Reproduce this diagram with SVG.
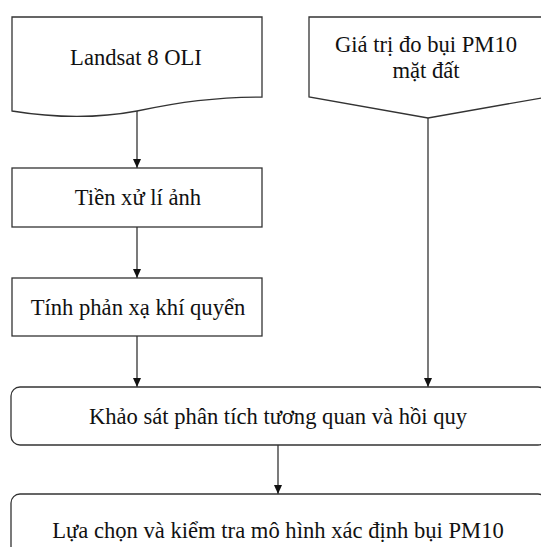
<svg xmlns="http://www.w3.org/2000/svg" width="541" height="547" viewBox="0 0 541 547">
<style>
.s{fill:#fff;stroke:#333;stroke-width:1.3}
.t{font-family:"Liberation Serif","Times New Roman",serif;font-size:22.6px;fill:#111;text-anchor:middle}
.c{fill:none;stroke:#333;stroke-width:1.3}
</style>
<defs>
<marker id="ah" markerWidth="10" markerHeight="10" refX="9" refY="5" orient="auto" markerUnits="userSpaceOnUse">
<path d="M0,1 L9,5 L0,9 Z" fill="#111"/>
</marker>
</defs>
<rect width="541" height="547" fill="#fff"/>
<g id="connectors">
<line class="c" x1="137" y1="111" x2="137" y2="168" marker-end="url(#ah)"/>
<line class="c" x1="137" y1="227" x2="137" y2="278" marker-end="url(#ah)"/>
<line class="c" x1="137" y1="336" x2="137" y2="387" marker-end="url(#ah)"/>
<line class="c" x1="428" y1="118" x2="428" y2="387" marker-end="url(#ah)"/>
<line class="c" x1="278" y1="445" x2="278" y2="494" marker-end="url(#ah)"/>
</g>
<g id="landsat">
<path class="s" d="M12,17 H262 V97 C215,97 180,102 137,111 C100,118 55,118 12,111 Z"/>
<text class="t" x="136" y="65">Landsat 8 OLI</text>
</g>
<g id="pm10">
<path class="s" d="M309,17 H547 V97 L428,118 L309,97 Z"/>
<text class="t" x="426" y="52">Giá trị đo bụi PM10</text>
<text class="t" x="426" y="78">mặt đất</text>
</g>
<g id="tienxuli">
<rect class="s" x="12" y="168" width="250" height="59"/>
<text class="t" x="138" y="205">Tiền xử lí ảnh</text>
</g>
<g id="phanxa">
<rect class="s" x="12" y="278" width="250" height="58"/>
<text class="t" x="138" y="315">Tính phản xạ khí quyển</text>
</g>
<g id="khaosat">
<rect class="s" x="11" y="387" width="536" height="58" rx="9"/>
<text class="t" x="278" y="424">Khảo sát phân tích tương quan và hồi quy</text>
</g>
<g id="luachon">
<rect class="s" x="11" y="494" width="536" height="70" rx="9"/>
<text class="t" x="278" y="538">Lựa chọn và kiểm tra mô hình xác định bụi PM10</text>
</g>
</svg>
